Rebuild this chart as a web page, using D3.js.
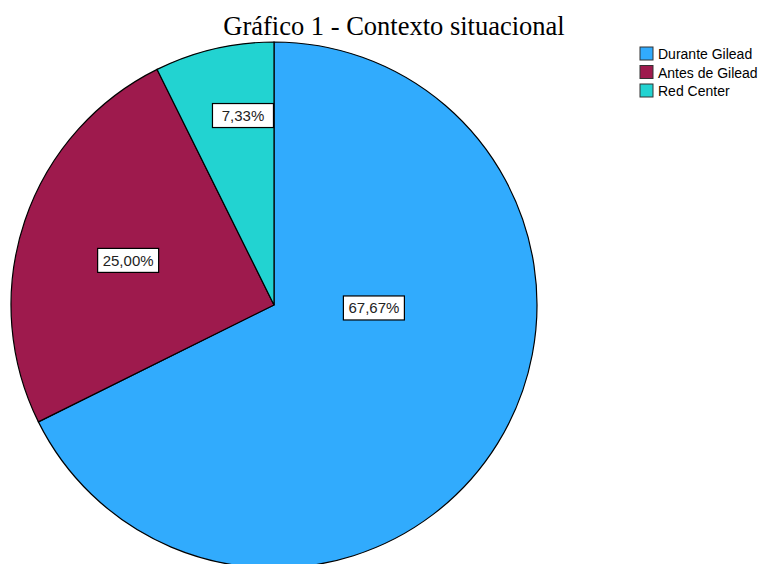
<!DOCTYPE html>
<html>
<head>
<meta charset="utf-8">
<script src="https://cdn.jsdelivr.net/npm/d3@7"></script>
<style>
  body { margin: 0; background: #fff; }
</style>
</head>
<body>
<div id="chart"></div>
<script>
var categories = ['Durante Gilead', 'Antes de Gilead', 'Red Center'];
var values = [67.67, 25.00, 7.33];
var colors = ['#31abfd', '#9e1a4d', '#22d3d1'];

var width = 765, height = 564;
var cx = 274, cy = 305, radius = 263;

var svg = d3.select('#chart')
  .append('svg')
  .attr('width', width)
  .attr('height', height);

svg.append('text')
  .attr('x', 394)
  .attr('y', 35)
  .attr('text-anchor', 'middle')
  .attr('font-family', 'Liberation Serif, Times New Roman, serif')
  .attr('font-size', 26.5)
  .text('Gráfico 1 - Contexto situacional');

var data = categories.map(function (c, i) {
  return { name: c, value: values[i], color: colors[i] };
});

var pie = d3.pie().sort(null).value(function (d) { return d.value; });
var arc = d3.arc().innerRadius(0).outerRadius(radius);
var arcs = pie(data);

var g = svg.append('g').attr('transform', 'translate(' + cx + ',' + cy + ')');

g.selectAll('path')
  .data(arcs)
  .enter().append('path')
  .attr('d', arc)
  .attr('fill', function (d) { return d.data.color; })
  .attr('stroke', '#000')
  .attr('stroke-width', 1.2);

// label placement (angle in degrees from top, distance as fraction of radius)
var labelPlace = [[91.7, 0.38], [287, 0.58], [350.7, 0.73]];
var fmt = function (v) { return v.toFixed(2).replace('.', ',') + '%'; };

var labels = g.selectAll('.lbl')
  .data(arcs)
  .enter().append('g')
  .attr('class', 'lbl')
  .attr('transform', function (d, i) {
    var a = labelPlace[i][0] * Math.PI / 180, r = labelPlace[i][1] * radius;
    return 'translate(' + (Math.sin(a) * r) + ',' + (-Math.cos(a) * r) + ')';
  });

labels.append('rect')
  .attr('x', -30.5).attr('y', -12)
  .attr('width', 61).attr('height', 24)
  .attr('fill', '#fff')
  .attr('stroke', '#000')
  .attr('stroke-width', 1.2);

labels.append('text')
  .attr('text-anchor', 'middle')
  .attr('dy', '0.36em')
  .attr('font-family', 'Liberation Sans, Arial, sans-serif')
  .attr('font-size', 15)
  .attr('fill', '#222')
  .text(function (d) { return fmt(d.data.value); });

var legend = svg.append('g').attr('transform', 'translate(640,47)');
var items = legend.selectAll('g')
  .data(data)
  .enter().append('g')
  .attr('transform', function (d, i) { return 'translate(0,' + (i * 18.5) + ')'; });

items.append('rect')
  .attr('width', 13).attr('height', 13)
  .attr('fill', function (d) { return d.color; })
  .attr('stroke', '#333')
  .attr('stroke-width', 1);

items.append('text')
  .attr('x', 18)
  .attr('y', 12)
  .attr('font-family', 'Liberation Sans, Arial, sans-serif')
  .attr('font-size', 14)
  .text(function (d) { return d.name; });
</script>
</body>
</html>
